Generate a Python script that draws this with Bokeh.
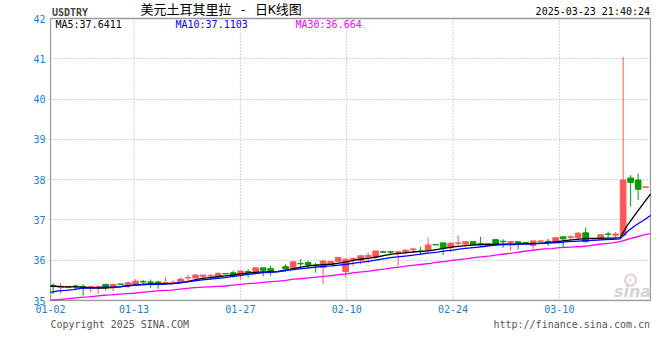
from bokeh.plotting import figure
from bokeh.layouts import column
from bokeh.models import FixedTicker, Label, ColumnDataSource, Range1d
from bokeh.embed import file_html
from bokeh.resources import INLINE

# ---------------- data ----------------
symbol = "USDTRY"
title_text = "美元土耳其里拉 - 日K线图"
stamp = "2025-03-23 21:40:24"
copyright_text = "Copyright 2025 SINA.COM"
site_text = "http://finance.sina.com.cn"

tick_idx = [0, 11, 25, 39, 53, 67]
tick_labels = ["01-02", "01-13", "01-27", "02-10", "02-24", "03-10"]
y_ticks = [35, 36, 37, 38, 39, 40, 41, 42]

opens = [35.37, 35.32, 35.32, 35.36, 35.35, 35.31, 35.33, 35.40, 35.32, 35.41,
         35.39, 35.41, 35.47, 35.46, 35.46, 35.44, 35.42, 35.45, 35.56, 35.56,
         35.60, 35.61, 35.59, 35.67, 35.69, 35.63, 35.72, 35.68, 35.81, 35.79,
         35.72, 35.84, 35.78, 35.92, 35.94, 35.88, 35.82, 35.91, 35.97, 35.72,
         36.01, 36.00, 36.08, 36.09, 36.21, 36.21, 36.19, 36.20, 36.26, 36.23,
         36.25, 36.39, 36.43, 36.31, 36.42, 36.40, 36.46, 36.41, 36.38, 36.51,
         36.47, 36.44, 36.46, 36.44, 36.37, 36.47, 36.47, 36.45, 36.58, 36.57,
         36.56, 36.68, 36.49, 36.52, 36.65, 36.62, 36.62, 38.04, 37.99, 37.81]
highs = [35.43, 35.43, 35.36, 35.39, 35.40, 35.36, 35.38, 35.41, 35.41, 35.41,
         35.47, 35.53, 35.51, 35.52, 35.49, 35.58, 35.50, 35.57, 35.64, 35.65,
         35.64, 35.66, 35.71, 35.67, 35.74, 35.74, 35.78, 35.81, 35.81, 35.86,
         35.73, 35.90, 35.96, 36.02, 35.98, 35.94, 36.02, 35.97, 36.07, 36.05,
         36.07, 36.12, 36.19, 36.23, 36.21, 36.23, 36.23, 36.27, 36.31, 36.33,
         36.56, 36.39, 36.43, 36.45, 36.62, 36.48, 36.48, 36.58, 36.41, 36.51,
         36.52, 36.48, 36.48, 36.45, 36.48, 36.48, 36.53, 36.58, 36.60, 36.62,
         36.70, 36.81, 36.51, 36.65, 36.71, 36.70, 41.04, 38.11, 38.15, 37.82]
lows = [35.16, 35.17, 35.31, 35.28, 35.12, 35.20, 35.16, 35.25, 35.23, 35.40,
        35.31, 35.38, 35.39, 35.32, 35.29, 35.41, 35.41, 35.44, 35.46, 35.53,
        35.51, 35.51, 35.57, 35.66, 35.57, 35.52, 35.57, 35.66, 35.60, 35.61,
        35.71, 35.71, 35.77, 35.78, 35.78, 35.69, 35.41, 35.91, 35.97, 35.57,
        35.86, 35.90, 35.93, 36.04, 36.20, 36.15, 35.86, 36.16, 36.20, 36.13,
        36.21, 36.38, 36.13, 36.20, 36.36, 36.32, 36.37, 36.37, 36.37, 36.38,
        36.31, 36.24, 36.27, 36.40, 36.27, 36.47, 36.36, 36.44, 36.31, 36.49,
        36.52, 36.44, 36.48, 36.51, 36.56, 36.56, 36.60, 37.33, 37.50, 37.81]
closes = [35.36, 35.35, 35.35, 35.35, 35.34, 35.35, 35.34, 35.32, 35.40, 35.40,
          35.44, 35.48, 35.46, 35.45, 35.44, 35.45, 35.45, 35.53, 35.57, 35.63,
          35.63, 35.62, 35.67, 35.66, 35.61, 35.73, 35.70, 35.81, 35.75, 35.71,
          35.72, 35.78, 35.96, 35.91, 35.88, 35.86, 35.98, 35.97, 36.07, 36.02,
          36.04, 36.11, 36.12, 36.23, 36.20, 36.20, 36.21, 36.25, 36.28, 36.22,
          36.38, 36.38, 36.31, 36.42, 36.43, 36.46, 36.39, 36.40, 36.41, 36.40,
          36.46, 36.46, 36.44, 36.42, 36.48, 36.48, 36.46, 36.56, 36.53, 36.58,
          36.67, 36.46, 36.50, 36.63, 36.64, 36.65, 37.99, 37.93, 37.76, 37.82]

ma5 = [35.36, 35.35, 35.34, 35.34, 35.33, 35.32, 35.31, 35.31, 35.32, 35.34,
       35.36, 35.38, 35.40, 35.41, 35.41, 35.42, 35.42, 35.44, 35.47, 35.51,
       35.55, 35.57, 35.59, 35.61, 35.63, 35.66, 35.68, 35.70, 35.71, 35.71,
       35.72, 35.75, 35.79, 35.83, 35.86, 35.88, 35.89, 35.90, 35.93, 35.96,
       36.00, 36.03, 36.05, 36.08, 36.12, 36.15, 36.17, 36.19, 36.21, 36.22,
       36.24, 36.27, 36.30, 36.33, 36.35, 36.37, 36.38, 36.39, 36.39, 36.40,
       36.40, 36.40, 36.41, 36.41, 36.42, 36.43, 36.45, 36.47, 36.49, 36.51,
       36.53, 36.54, 36.54, 36.55, 36.55, 36.56, 36.88, 37.14, 37.39, 37.64]
ma10 = [35.20, 35.24, 35.25, 35.27, 35.30, 35.31, 35.32, 35.33, 35.33, 35.34,
        35.36, 35.38, 35.39, 35.40, 35.40, 35.41, 35.42, 35.44, 35.46, 35.49,
        35.51, 35.53, 35.55, 35.57, 35.60, 35.62, 35.65, 35.67, 35.69, 35.70,
        35.72, 35.75, 35.77, 35.79, 35.81, 35.83, 35.85, 35.86, 35.88, 35.90,
        35.93, 35.95, 35.98, 36.01, 36.04, 36.07, 36.09, 36.11, 36.13, 36.16,
        36.18, 36.20, 36.23, 36.25, 36.28, 36.30, 36.32, 36.34, 36.36, 36.38,
        36.39, 36.39, 36.40, 36.40, 36.41, 36.42, 36.43, 36.44, 36.46, 36.47,
        36.48, 36.49, 36.50, 36.51, 36.52, 36.53, 36.72, 36.86, 36.98, 37.11]
ma30 = [35.01, 35.02, 35.04, 35.06, 35.08, 35.09, 35.11, 35.13, 35.14, 35.16,
        35.17, 35.18, 35.20, 35.22, 35.24, 35.25, 35.26, 35.28, 35.30, 35.32,
        35.33, 35.34, 35.35, 35.36, 35.38, 35.40, 35.42, 35.43, 35.45, 35.47,
        35.48, 35.50, 35.53, 35.54, 35.56, 35.58, 35.60, 35.62, 35.64, 35.66,
        35.69, 35.71, 35.73, 35.76, 35.78, 35.81, 35.83, 35.86, 35.88, 35.90,
        35.92, 35.95, 35.97, 36.00, 36.02, 36.04, 36.07, 36.09, 36.11, 36.14,
        36.16, 36.18, 36.21, 36.24, 36.26, 36.28, 36.29, 36.31, 36.32, 36.33,
        36.34, 36.36, 36.39, 36.41, 36.43, 36.46, 36.52, 36.57, 36.62, 36.66]

ma_names = ["MA5", "MA10", "MA30"]
ma_last = ["37.6411", "37.1103", "36.664"]

# ---------------- styles / layout ----------------
UP = "#ff5757"
DOWN = "#009c00"
MA_COLORS = ["#000000", "#0000ff", "#ff00ff"]
AXIS_BLUE = "#1a7fcf"
GRID = "#a8a8a8"
BORDER = "#9a9a9a"
MONO = "DejaVu Sans Mono"

N = len(closes)
Y0, Y1 = y_ticks[0], y_ticks[-1]
W = 656
PLOT_L, PLOT_R, PLOT_T, PLOT_B = 50, 650, 18, 300   # price box, page pixels
PXU = (PLOT_R - PLOT_L) / (N - 1)
PYU = (PLOT_B - PLOT_T) / (Y1 - Y0)
MAIN_H = 319


def X(px):
    return (px - PLOT_L) / PXU


def Y(py):
    return Y1 - (py - PLOT_T) / PYU


idx = list(range(N))
# MA lines span the box in N-1 steps; candles sit in N equal slots
cx = [(i + 0.35) * (N - 1) / N for i in idx]
src = ColumnDataSource(dict(
    x=cx, h=highs, l=lows,
    top=[max(o, c) for o, c in zip(opens, closes)],
    bot=[min(o, c) for o, c in zip(opens, closes)],
    col=[UP if c >= o else DOWN for o, c in zip(opens, closes)],
))

xr = Range1d(X(PLOT_L - 1), X(PLOT_R + 1))
p = figure(width=W, height=MAIN_H, output_backend="svg", toolbar_location=None,
           title=None, x_range=xr,
           y_range=Range1d(Y(PLOT_B + 1), Y(0)),
           min_border_left=PLOT_L - 1, min_border_right=W - PLOT_R - 1,
           min_border_top=0, min_border_bottom=MAIN_H - PLOT_B - 1,
           background_fill_color="white", border_fill_color="white")
p.outline_line_color = None

# axes
p.xaxis.ticker = FixedTicker(ticks=tick_idx)
p.xaxis.major_label_overrides = {t: s for t, s in zip(tick_idx, tick_labels)}
p.yaxis.ticker = FixedTicker(ticks=y_ticks)
for ax in (p.xaxis[0], p.yaxis[0]):
    ax.axis_line_color = None
    ax.major_tick_line_color = None
    ax.minor_tick_line_color = None
    ax.major_tick_out = 0
    ax.major_tick_in = 0
    ax.major_label_text_font = MONO
    ax.major_label_text_font_size = "10px"
    ax.major_label_text_color = AXIS_BLUE
p.xaxis.major_label_standoff = 3
p.yaxis.major_label_standoff = 4

p.xgrid.visible = False
p.ygrid.grid_line_color = GRID
p.ygrid.grid_line_dash = "1 2"
p.ygrid.grid_line_width = 1

# vertical date grid lines, only inside the price box
p.segment(x0=tick_idx, y0=[Y0] * len(tick_idx), x1=tick_idx, y1=[Y1] * len(tick_idx),
          line_color=GRID, line_dash="1 2", line_width=1, level="underlay")

# price box border
p.quad(left=[0], right=[N - 1], bottom=[Y0], top=[Y1], fill_color=None,
       line_color=BORDER, line_width=1.3)

# watermark logo (eye ring) behind the data
p.scatter(x=[X(630)], y=[Y(279.5)], marker="circle", size=11, fill_color=None,
          line_color="#e4d8d8", line_width=2.5, level="underlay")
p.scatter(x=[X(630)], y=[Y(279.5)], marker="circle", size=3, fill_color="#e4d8d8",
          line_color=None, level="underlay")

# candles
p.segment(x0="x", y0="h", x1="x", y1="l", color="col", line_width=1, source=src)
p.vbar(x="x", top="top", bottom="bot", width=0.75 * (N - 1) / N,
       fill_color="col", line_color="col", line_width=1, source=src)

# moving averages
for vals, colr in zip([ma5, ma10, ma30], MA_COLORS):
    p.line(idx, vals, line_color=colr, line_width=1.3)

# header
p.add_layout(Label(x=X(51.5), y=Y(11.7), text=symbol, text_font=MONO,
                   text_font_size="10px", text_font_style="bold", text_color="#444444",
                   text_baseline="middle", text_align="left"))
p.add_layout(Label(x=X(140), y=Y(8.6), text=title_text,
                   text_font="DejaVu Sans Mono, Noto Sans CJK SC",
                   text_font_size="13px", text_color="#000000",
                   text_baseline="middle", text_align="left"))
p.add_layout(Label(x=X(649.5), y=Y(11.3), text=stamp, text_font=MONO,
                   text_font_size="10px", text_color="#000000",
                   text_baseline="middle", text_align="right"))

# legend row
for name, last, colr, px in zip(ma_names, ma_last, MA_COLORS, [55, 175, 295]):
    p.add_layout(Label(x=X(px), y=Y(24.3), text=f"{name}:{last}", text_font=MONO,
                       text_font_size="10px", text_color=colr,
                       text_baseline="middle", text_align="left"))

# watermark text
p.add_layout(Label(x=X(632), y=Y(290.5), text="sina", text_font="DejaVu Sans",
                   text_font_size="16px", text_font_style="bold italic",
                   text_color="#d4d4d4", text_baseline="middle", text_align="center"))

# footer strip (its frame is aligned with the main frame, so share the x range)
FOOT_H = 26
f = figure(width=W, height=FOOT_H, output_backend="svg", toolbar_location=None,
           title=None, x_range=xr, y_range=Range1d(FOOT_H, 0),
           x_axis_type=None, y_axis_type=None,
           min_border_left=PLOT_L - 1, min_border_right=W - PLOT_R - 1,
           min_border_top=0, min_border_bottom=0,
           background_fill_color="white", border_fill_color="white")
f.outline_line_color = None
f.xgrid.visible = False
f.ygrid.visible = False
f.add_layout(Label(x=X(50), y=323.5 - MAIN_H, text=copyright_text, text_font=MONO,
                   text_font_size="10px", text_color="#555555",
                   text_baseline="middle", text_align="left"))
f.add_layout(Label(x=X(649.5), y=323.5 - MAIN_H, text=site_text, text_font=MONO,
                   text_font_size="10px", text_color="#555555",
                   text_baseline="middle", text_align="right"))

layout = column(p, f, spacing=0)
open("out.html", "w").write(file_html(layout, INLINE))
